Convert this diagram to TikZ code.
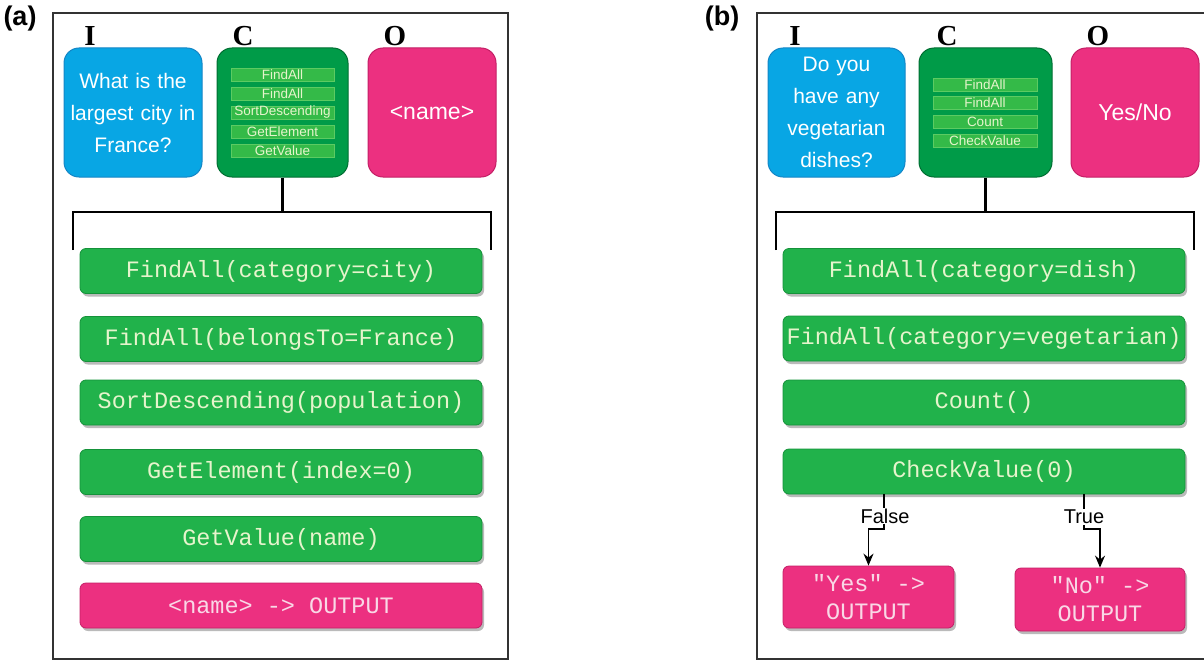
\documentclass[tikz,border=0pt]{standalone}
\usepackage{fontspec}
\setmainfont{Liberation Sans}
\newfontfamily\codefont{Liberation Mono}
\newfontfamily\headfont{Liberation Serif}
\usetikzlibrary{arrows.meta,calc,positioning,shadows}
\definecolor{qblue}{HTML}{08A6E4}
\definecolor{qblueD}{HTML}{1486C6}
\definecolor{cgreen}{HTML}{009B48}
\definecolor{cgreenD}{HTML}{006E32}
\definecolor{opink}{HTML}{EC3080}
\definecolor{opinkD}{HTML}{C41F66}
\definecolor{stepG}{HTML}{21B24B}
\definecolor{stepD}{HTML}{15923A}
\definecolor{chipG}{HTML}{34BA48}
\definecolor{chipL}{HTML}{5CCB62}
\definecolor{codeT}{HTML}{E6F4CC}
\definecolor{pinkT}{HTML}{F9D8E6}

\begin{document}
\begin{tikzpicture}[x=1pt, y=-1pt, >={Stealth[length=12pt,width=10pt]},
    panel/.style={font=\fontsize{27}{27}\selectfont\bfseries},
    head/.style={font=\headfont\fontsize{29}{29}\selectfont\bfseries},
    bigbox/.style={line width=1pt, rounded corners=15pt, minimum height=129pt, inner sep=0pt, text=white, align=center},
    qbox/.style={bigbox, draw=qblueD, fill=qblue, font=\fontsize{21}{32}\selectfont},
    cbox/.style={bigbox, draw=cgreenD, fill=cgreen},
    obox/.style={bigbox, draw=opinkD, fill=opink, font=\fontsize{23}{28}\selectfont},
    chip/.style={draw=chipL, fill=chipG, line width=0.6pt, minimum height=13pt, inner sep=0pt, text=codeT, font=\fontsize{13.5}{14}\selectfont},
    stepbox/.style={draw=stepD, fill=stepG, line width=0.8pt, rounded corners=6pt, minimum width=402pt, minimum height=45pt, inner sep=0pt, text=codeT, font=\codefont\fontsize{23.5}{28}\selectfont, drop shadow={shadow xshift=2pt, shadow yshift=-3pt, fill=black!45, opacity=0.6}},
    outbox/.style={stepbox, draw=opinkD, fill=opink, text=pinkT, align=center},
    frame/.style={draw=black!80, line width=1.5pt},
    bracket/.style={line width=2.5pt},
    flow/.style={line width=1.5pt, ->},
    branch/.style={fill=white, inner sep=1pt, font=\fontsize{20}{20}\selectfont}]
  \useasboundingbox (0,0) rectangle (1204,661);

  % panel (a)
  \draw[frame] (53,13) rectangle (508,659);
  \node[panel] (pa) at (20,19) {(a)};
  \node[head] (ia) at (90,36) {I};
  \node[head] (ca) at (243,36) {C};
  \node[head] (oa) at (395,36) {O};
  \node[qbox, minimum width=138pt, text width=130pt] (qa) at (133,112.5) {What is the\\largest city in\\France?};
  \node[cbox, minimum width=131pt] (cA) at (282.5,112.5) {};
  \node[obox, minimum width=128pt] (oA) at (432,112.5) {<name>};
  \node[chip, minimum width=103pt] (a1) at (282.5,74.5) {FindAll};
  \node[chip, minimum width=103pt] (a2) at (282.5,93.5) {FindAll};
  \node[chip, minimum width=103pt] (a3) at (282.5,112.5) {SortDescending};
  \node[chip, minimum width=103pt] (a4) at (282.5,131.5) {GetElement};
  \node[chip, minimum width=103pt] (a5) at (282.5,150.5) {GetValue};
  \coordinate (aj) at (282.5,212);
  \coordinate (al) at (73,250);
  \coordinate (ar) at (491,250);
  \draw[bracket] (cA) -- (aj);
  \draw[bracket] (al) |- (aj) -| (ar);
  \node[stepbox] (s1) at (281,271) {FindAll(category=city)};
  \node[stepbox] (s2) at (281,339) {FindAll(belongsTo=France)};
  \node[stepbox] (s3) at (281,402.5) {SortDescending(population)};
  \node[stepbox] (s4) at (281,472) {GetElement(index=0)};
  \node[stepbox] (s5) at (281,539) {GetValue(name)};
  \node[outbox] (s6) at (281,605.5) {<name> -> OUTPUT};

  % panel (b)
  \draw[frame] (1206,13) -- (757,13) -- (757,659) -- (1206,659);
  \node[panel] (pb) at (722,19) {(b)};
  \node[head] (ib) at (795,36) {I};
  \node[head] (cb) at (947,36) {C};
  \node[head] (ob) at (1098,36) {O};
  \node[qbox, minimum width=137pt, text width=130pt] (qb) at (836.5,112.5) {Do you\\have any\\vegetarian\\dishes?};
  \node[cbox, minimum width=133pt] (cB) at (985.5,112.5) {};
  \node[obox, minimum width=128pt] (oB) at (1135,112.5) {Yes/No};
  \node[chip, minimum width=104pt] (b1) at (985,84.5) {FindAll};
  \node[chip, minimum width=104pt] (b2) at (985,103) {FindAll};
  \node[chip, minimum width=104pt] (b3) at (985,121.7) {Count};
  \node[chip, minimum width=104pt] (b4) at (985,140.4) {CheckValue};
  \coordinate (bj) at (985.5,212);
  \coordinate (bl) at (776,250);
  \coordinate (br) at (1194,250);
  \draw[bracket] (cB) -- (bj);
  \draw[bracket] (bl) |- (bj) -| (br);
  \node[stepbox] (t1) at (984,271) {FindAll(category=dish)};
  \node[stepbox] (t2) at (984,338.5) {FindAll(category=vegetarian)};
  \node[stepbox] (t3) at (984,402.5) {Count()};
  \node[stepbox] (chk) at (984,471.5) {CheckValue(0)};
  \node[outbox, minimum width=171pt, minimum height=62pt] (yes) at (868.5,597) {"Yes" ->\\OUTPUT};
  \node[outbox, minimum width=170pt, minimum height=63pt] (no) at (1100,599.5) {"No" ->\\OUTPUT};
  \coordinate (kf) at (884,529);
  \coordinate (kt) at (1084,529);
  \draw[flow] (chk.south -| kf) -- (kf) -| (yes.north);
  \draw[flow] (chk.south -| kt) -- (kt) -| (no.north);
  \node[branch] (lf) at (885,516) {False};
  \node[branch] (lt) at (1084,517) {True};
\end{tikzpicture}
\end{document}
